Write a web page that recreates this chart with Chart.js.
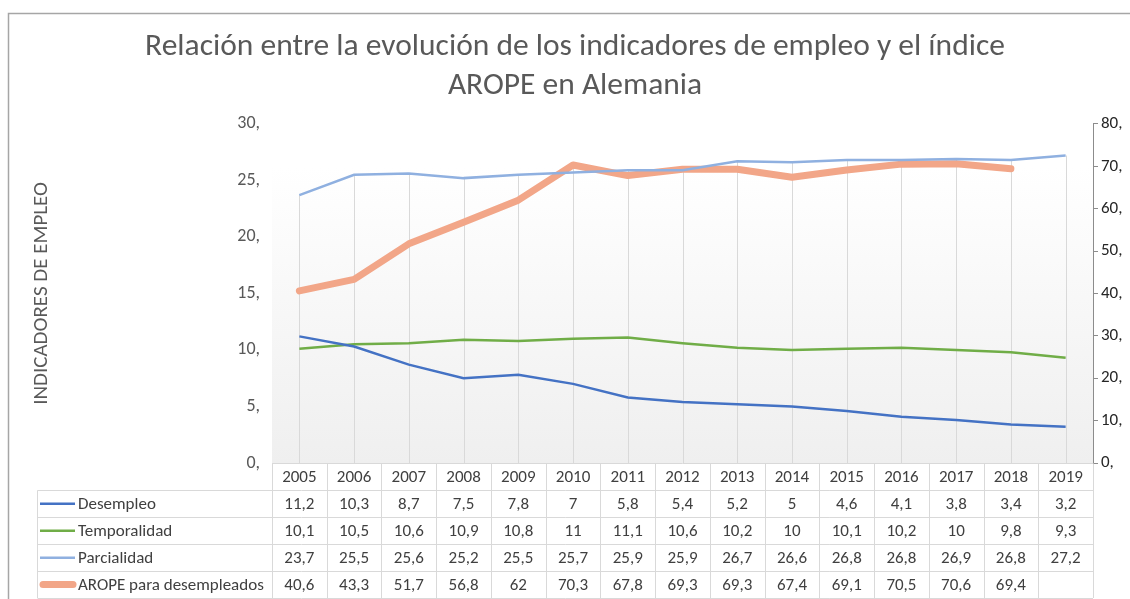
<!DOCTYPE html>
<html>
<head>
<meta charset="utf-8">
<script src="https://cdn.jsdelivr.net/npm/chart.js@4.4.1/dist/chart.umd.min.js"></script>
<style>
  body { margin: 0; background: #fff; }
</style>
</head>
<body>
<canvas id="myChart" width="1130" height="599"></canvas>
<script>
var years = ['2005','2006','2007','2008','2009','2010','2011','2012','2013','2014','2015','2016','2017','2018','2019'];
var desempleo    = [11.2, 10.3, 8.7, 7.5, 7.8, 7, 5.8, 5.4, 5.2, 5, 4.6, 4.1, 3.8, 3.4, 3.2];
var temporalidad = [10.1, 10.5, 10.6, 10.9, 10.8, 11, 11.1, 10.6, 10.2, 10, 10.1, 10.2, 10, 9.8, 9.3];
var parcialidad  = [23.7, 25.5, 25.6, 25.2, 25.5, 25.7, 25.9, 25.9, 26.7, 26.6, 26.8, 26.8, 26.9, 26.8, 27.2];
var arope        = [40.6, 43.3, 51.7, 56.8, 62, 70.3, 67.8, 69.3, 69.3, 67.4, 69.1, 70.5, 70.6, 69.4, null];

var leftTicks = [0, 30, 5];   // min, max, step
var rightTicks = [0, 80, 10];

var FONT = 'Carlito, Lato, "Open Sans", sans-serif';
Chart.defaults.font.family = FONT;
Chart.defaults.color = '#595959';

function fmt(v) {
    if (v === null || v === undefined) return '';
    return String(v).replace('.', ',');
}

// white page, chart frame and the plot area gradient
var backgroundPlugin = {
    id: 'background',
    beforeDraw: function(chart) {
        var ctx = chart.ctx, a = chart.chartArea;
        ctx.save();
        ctx.fillStyle = '#fff';
        ctx.fillRect(0, 0, chart.width, chart.height);
        var g = ctx.createLinearGradient(0, 168, 0, a.bottom);
        g.addColorStop(0, '#ffffff');
        g.addColorStop(1, '#efefef');
        ctx.fillStyle = g;
        ctx.fillRect(a.left, 168, a.right - a.left, a.bottom - 168);
        ctx.strokeStyle = '#a6a6a6';
        ctx.lineWidth = 1.5;
        ctx.beginPath();
        ctx.moveTo(8.5, chart.height);
        ctx.lineTo(8.5, 13.5);
        ctx.lineTo(chart.width, 13.5);
        ctx.stroke();
        ctx.restore();
    }
};

// drop lines from the highest point of each category down to the axis
var dropLinesPlugin = {
    id: 'dropLines',
    beforeDatasetsDraw: function(chart) {
        var ctx = chart.ctx, a = chart.chartArea;
        ctx.save();
        ctx.strokeStyle = '#d9d9d9';
        ctx.lineWidth = 1;
        for (var i = 0; i < years.length; i++) {
            var top = a.bottom, x = null;
            chart.data.datasets.forEach(function(ds, k) {
                if (ds.data[i] === null) return;
                var p = chart.getDatasetMeta(k).data[i];
                x = p.x;
                if (p.y < top) top = p.y;
            });
            if (x === null) continue;
            ctx.beginPath();
            ctx.moveTo(Math.round(x) + 0.5, top);
            ctx.lineTo(Math.round(x) + 0.5, a.bottom);
            ctx.stroke();
        }
        ctx.restore();
    }
};

// the data table under the plot
var tablePlugin = {
    id: 'dataTable',
    afterDraw: function(chart) {
        var ctx = chart.ctx, a = chart.chartArea, xs = chart.scales.x;
        var w = xs.getPixelForValue(1) - xs.getPixelForValue(0);
        var top = a.bottom + 0.5, rowH = 26.9, legLeft = 37.5;
        var rows = chart.data.datasets.length;
        var bottom = top + rowH * (rows + 1);
        ctx.save();
        ctx.strokeStyle = '#d9d9d9';
        ctx.lineWidth = 1;
        ctx.beginPath();
        ctx.moveTo(a.left, top); ctx.lineTo(a.right, top);
        for (var r = 1; r <= rows + 1; r++) {
            var y = Math.round(top + rowH * r) + 0.5;
            ctx.moveTo(legLeft, y); ctx.lineTo(a.right, y);
        }
        for (var k = 0; k <= years.length; k++) {
            var x = Math.round(a.left + k * w) + 0.5;
            ctx.moveTo(x, top); ctx.lineTo(x, bottom);
        }
        ctx.moveTo(legLeft, top + rowH); ctx.lineTo(legLeft, bottom);
        ctx.stroke();

        ctx.font = '17px ' + FONT;
        ctx.fillStyle = '#404040';
        ctx.textBaseline = 'middle';
        ctx.textAlign = 'center';
        years.forEach(function(yr, i) {
            ctx.fillText(yr, xs.getPixelForValue(i), top + rowH / 2 + 1);
        });
        chart.data.datasets.forEach(function(ds, r) {
            var cy = top + rowH * (r + 1) + rowH / 2 + 1;
            ctx.textAlign = 'center';
            ds.data.forEach(function(v, i) {
                ctx.fillText(fmt(v), xs.getPixelForValue(i), cy);
            });
            // legend key
            ctx.save();
            ctx.strokeStyle = ds.borderColor;
            ctx.lineWidth = ds.borderWidth;
            ctx.lineCap = ds.borderWidth > 4 ? 'round' : 'butt';
            ctx.beginPath();
            var x0 = ds.borderWidth > 4 ? 43 : 40;
            ctx.moveTo(x0, cy - 1); ctx.lineTo(ds.borderWidth > 4 ? 73 : 75, cy - 1);
            ctx.stroke();
            ctx.restore();
            ctx.textAlign = 'left';
            ctx.fillText(ds.label, 78, cy);
        });
        ctx.restore();
    }
};

var ctx = document.getElementById('myChart').getContext('2d');
var myChart = new Chart(ctx, {
    type: 'line',
    data: {
        labels: years,
        datasets: [{
            label: 'Desempleo',
            data: desempleo,
            borderColor: '#4472c4',
            borderWidth: 2.5,
            yAxisID: 'y'
        }, {
            label: 'Temporalidad',
            data: temporalidad,
            borderColor: '#70ad47',
            borderWidth: 2.5,
            yAxisID: 'y'
        }, {
            label: 'Parcialidad',
            data: parcialidad,
            borderColor: '#8fb0e0',
            borderWidth: 2.5,
            yAxisID: 'y'
        }, {
            label: 'AROPE para desempleados',
            data: arope,
            borderColor: '#f2a688',
            borderWidth: 7,
            borderCapStyle: 'round',
            borderJoinStyle: 'round',
            yAxisID: 'y2'
        }]
    },
    options: {
        responsive: false,
        animation: false,
        layout: { padding: { left: 20, right: 0, top: 0, bottom: 0 } },
        elements: {
            point: { radius: 0, hoverRadius: 0 },
            line: { tension: 0, fill: false }
        },
        plugins: {
            legend: { display: false },
            tooltip: { enabled: false },
            title: {
                display: true,
                text: ['Relación entre la evolución de los indicadores de empleo y el índice', 'AROPE en Alemania'],
                color: '#595959',
                font: { size: 31.5, weight: 'normal', lineHeight: 1.22 },
                padding: { top: 28, bottom: 19 }
            }
        },
        scales: {
            x: {
                offset: true,
                grid: { display: false },
                border: { display: false },
                ticks: { display: false },
                afterFit: function(s) { s.height = 136; }
            },
            y: {
                position: 'left',
                min: leftTicks[0],
                max: leftTicks[1],
                ticks: {
                    stepSize: leftTicks[2],
                    padding: 12,
                    color: '#595959',
                    font: { size: 18 },
                    callback: function(v) { return v + ','; }
                },
                grid: { display: false, drawTicks: false },
                border: { display: false },
                title: {
                    display: true,
                    text: 'INDICADORES DE EMPLEO',
                    color: '#595959',
                    font: { size: 21 },
                    padding: { top: 9, bottom: 0 }
                },
                afterFit: function(s) { s.width = 252; }
            },
            y2: {
                position: 'right',
                min: rightTicks[0],
                max: rightTicks[1],
                ticks: {
                    stepSize: rightTicks[2],
                    padding: 3,
                    color: '#262626',
                    font: { size: 17 },
                    callback: function(v) { return v + ','; }
                },
                grid: { drawOnChartArea: false, tickLength: 5, color: '#8c8c8c' },
                border: { display: true, color: '#8c8c8c' },
                afterFit: function(s) { s.width = 37; }
            }
        }
    },
    plugins: [backgroundPlugin, dropLinesPlugin, tablePlugin]
});
</script>
</body>
</html>
